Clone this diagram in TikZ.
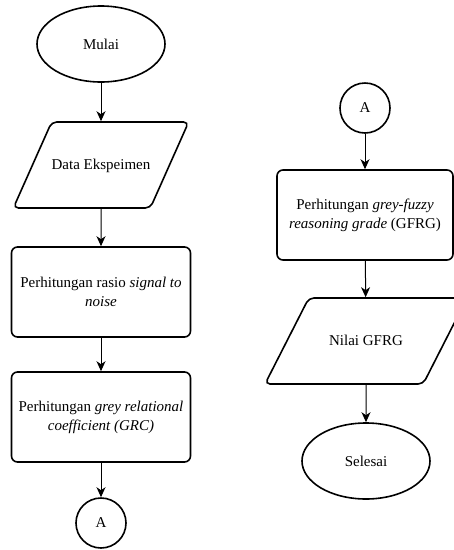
\documentclass[tikz,border=0pt]{standalone}
\usepackage{fontspec}
\setmainfont{Liberation Serif}
\usetikzlibrary{shapes.geometric,arrows.meta}

\begin{document}
\begin{tikzpicture}[x=1pt, y=-1pt,
    font=\fontsize{15}{19}\selectfont,
    terminal/.style={ellipse, draw, line width=1.6pt, minimum width=128pt, minimum height=76pt, inner sep=0pt},
    proses/.style={rectangle, draw, rounded corners=6pt, line width=1.6pt, minimum height=90pt, align=center, inner sep=2pt},
    io/.style={trapezium, trapezium stretches body=true, draw, rounded corners=5pt, line width=1.6pt,
               text height=11pt, text depth=3pt, inner xsep=0pt, inner ysep=36pt},
    konektor/.style={circle, draw, line width=1.6pt, minimum size=50pt, inner sep=0pt},
    panah/.style={-{Stealth[length=10pt, width=9pt, inset=3pt]}, line width=1pt}]
  % Frame
  \clip (0,0) rectangle (454,550);
  % Left column
  \node[terminal] (mulai) at (101,44) {Mulai};
  \node[io, trapezium left angle=66, trapezium right angle=114,
        minimum width=174pt] (data) at (101,165) {Data Ekspeimen};
  \node[proses, minimum width=179pt] (snr) at (101,292)
      {Perhitungan rasio \textit{signal to}\\\textit{noise}};
  \node[proses, minimum width=179pt] (grc) at (101,417)
      {Perhitungan \textit{grey relational}\\\textit{coefficient (GRC)}};
  \node[konektor] (konA) at (101,523) {A};
  % Right column
  \node[konektor] (konB) at (365,108) {A};
  \node[proses, minimum width=176pt] (gfrg) at (365,215)
      {Perhitungan \textit{grey-fuzzy}\\\textit{reasoning grade} (GFRG)};
  \node[io, trapezium left angle=63, trapezium right angle=117,
        minimum width=202pt] (nilai) at (366,341) {Nilai GFRG};
  \node[terminal] (selesai) at (366,461) {Selesai};
  % Arrows
  \foreach \a/\b in {mulai/data, data/snr, snr/grc, grc/konA,
                     konB/gfrg, gfrg/nilai, nilai/selesai}
      \draw[panah] (\a) -- (\b);
\end{tikzpicture}
\end{document}
